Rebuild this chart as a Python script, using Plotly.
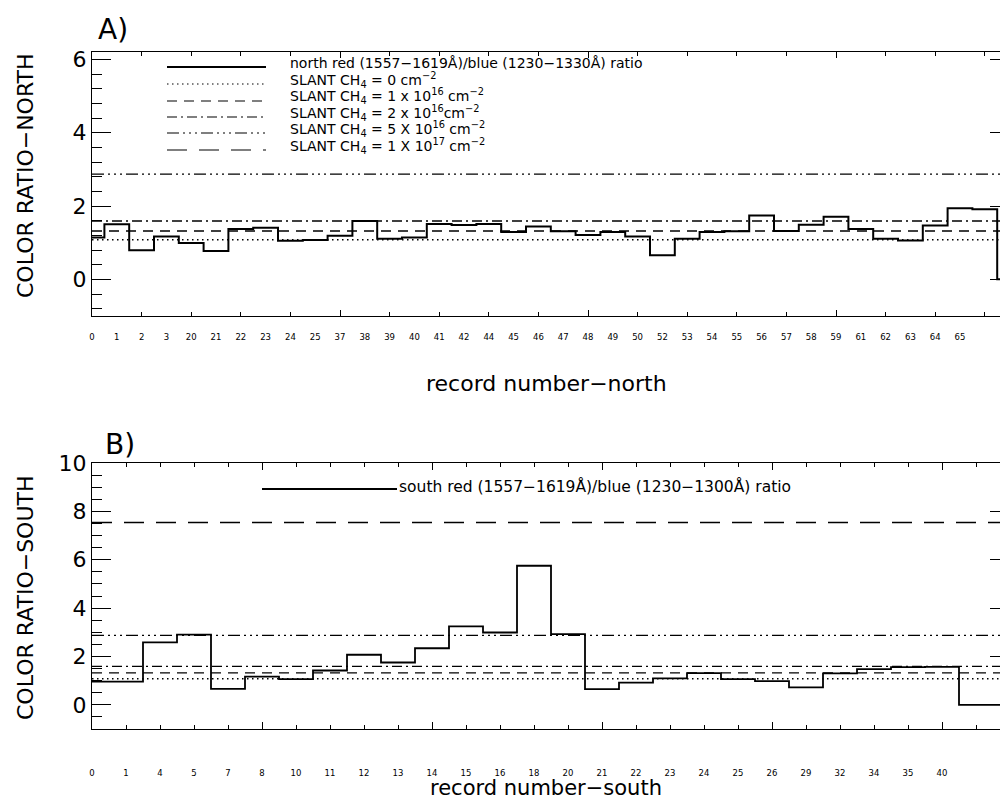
import plotly.graph_objects as go

# ---------------- data ----------------
north_labels = ["0", "1", "2", "3", "20", "21", "22", "23", "24", "25", "37", "38",
                "39", "40", "41", "42", "44", "45", "46", "47", "48", "49", "50", "52",
                "53", "54", "55", "56", "57", "58", "59", "61", "62", "63", "64", "65"]
north_ratio = [1.14, 1.50, 0.79, 1.17, 0.99, 0.77, 1.37, 1.41, 1.05, 1.07, 1.19, 1.59,
               1.11, 1.14, 1.51, 1.48, 1.51, 1.29, 1.44, 1.31, 1.21, 1.29, 1.17, 0.66,
               1.11, 1.29, 1.31, 1.74, 1.32, 1.49, 1.71, 1.37, 1.11, 1.06, 1.47, 1.94,
               1.91, 0.0]

south_labels = ["0", "1", "4", "5", "7", "8", "10", "11", "12", "13", "14", "15", "16",
                "18", "20", "21", "22", "23", "24", "25", "26", "29", "32", "34", "35", "40"]
south_ratio = [0.96, 0.96, 2.58, 2.90, 0.66, 1.17, 1.06, 1.42, 2.07, 1.75, 2.34, 3.24,
               2.99, 5.75, 2.92, 0.65, 0.92, 1.09, 1.31, 1.06, 0.98, 0.72, 1.30, 1.48,
               1.56, 1.57, 0.0, 0.0]

# model colour ratios for slant CH4 columns
ch4_text = [
    "SLANT CH<sub>4</sub> = 0 cm<sup>−2</sup>",
    "SLANT CH<sub>4</sub> = 1 x 10<sup>16</sup> cm<sup>−2</sup>",
    "SLANT CH<sub>4</sub> = 2 x 10<sup>16</sup>cm<sup>−2</sup>",
    "SLANT CH<sub>4</sub> = 5 X 10<sup>16</sup> cm<sup>−2</sup>",
    "SLANT CH<sub>4</sub> = 1 X 10<sup>17</sup> cm<sup>−2</sup>",
]
ch4_ratio = [1.08, 1.32, 1.59, 2.87, 7.54]

north_legend = "north red (1557−1619Å)/blue (1230−1330Å) ratio"
south_legend = "south red (1557−1619Å)/blue (1230−1300Å) ratio"

# ---------------- styling ----------------
FONT = "DejaVu Sans"
DASHES = ["1.5px,3.5px", "10px,7px", "10px,4px,2px,4px",
          "12px,4px,2px,4px,2px,4px,2px,4px", "20px,12px"]

W, H = 1000, 799
L, R, T, B = 92, 0, 52, 70
PW, PH = W - L - R, H - T - B


def px(x):
    return (x - L) / PW


def py(y):
    return (H - B - y) / PH


xr_n = [0, PW / 24.8]
xr_s = [0, PW / 34.0]
yr_n = [-1, 6.2]
yr_s = [-1, 10]

fig = go.Figure()

# step curves
fig.add_trace(go.Scatter(x=list(range(len(north_ratio))), y=north_ratio, mode="lines",
                         line=dict(shape="hvh", color="black", width=2),
                         xaxis="x", yaxis="y", showlegend=False))
fig.add_trace(go.Scatter(x=list(range(len(south_ratio))), y=south_ratio, mode="lines",
                         line=dict(shape="hvh", color="black", width=1.8),
                         xaxis="x2", yaxis="y2", showlegend=False))

# reference CH4 lines
for v, d in zip(ch4_ratio, DASHES):
    fig.add_trace(go.Scatter(x=[xr_n[0], xr_n[1]], y=[v, v], mode="lines",
                             line=dict(color="black", width=1.4, dash=d),
                             xaxis="x", yaxis="y", showlegend=False))
    fig.add_trace(go.Scatter(x=[xr_s[0], xr_s[1]], y=[v, v], mode="lines",
                             line=dict(color="black", width=1.4, dash=d),
                             xaxis="x2", yaxis="y2", showlegend=False))

# invisible helpers so the overlay axes are drawn
for xa, ya in [("x3", "y"), ("x", "y3"), ("x4", "y2"), ("x2", "y4")]:
    fig.add_trace(go.Scatter(x=[None], y=[None], xaxis=xa, yaxis=ya,
                             showlegend=False, hoverinfo="skip"))

domA = [py(316), 1.0]
domB = [0.0, py(463)]

label_axis = dict(showline=False, showgrid=False, zeroline=False, ticks="",
                  tickmode="array", tickfont=dict(family=FONT, size=8.5, color="black"))
mark_axis = dict(showline=True, mirror="ticks", linecolor="black", linewidth=1,
                 showgrid=False, zeroline=False, showticklabels=False,
                 ticks="inside", tickcolor="black", tickwidth=1, tickmode="linear", tick0=0)
y_axis = dict(showline=True, linecolor="black", linewidth=1, showgrid=False, zeroline=False,
              ticks="inside", ticklen=19, tickcolor="black", tickwidth=1,
              tickmode="linear", tick0=0, dtick=2,
              tickfont=dict(family=FONT, size=22, color="black"))
y_right = dict(showline=False, showgrid=False, zeroline=False, showticklabels=False,
               ticks="inside", ticklen=10, tickcolor="black", tickmode="linear",
               tick0=0, dtick=2, side="right")

fig.update_layout(
    width=W, height=H,
    margin=dict(l=L, r=R, t=T, b=B, pad=0),
    paper_bgcolor="white", plot_bgcolor="white",
    font=dict(family=FONT, color="black"),
    showlegend=False,
    xaxis=dict(**label_axis, domain=[0, 1], anchor="y", range=xr_n,
               tickvals=list(range(len(north_labels))), ticktext=north_labels,
               ticklabelstandoff=14),
    xaxis3=dict(**mark_axis, overlaying="x", anchor="y", range=xr_n, dtick=10, ticklen=6,
                minor=dict(dtick=2, tick0=0, ticks="inside", ticklen=4, tickcolor="black")),
    yaxis=dict(**y_axis, domain=domA, anchor="x", range=yr_n,
               minor=dict(dtick=0.4, tick0=0, ticks="inside", ticklen=10, tickcolor="black")),
    yaxis3=dict(**y_right, overlaying="y", anchor="x", range=yr_n),
    xaxis2=dict(**label_axis, domain=[0, 1], anchor="y2", range=xr_s,
                tickvals=list(range(len(south_labels))), ticktext=south_labels,
                ticklabelstandoff=37),
    xaxis4=dict(**mark_axis, overlaying="x2", anchor="y2", range=xr_s, dtick=5, ticklen=7,
                minor=dict(dtick=1, tick0=0, ticks="inside", ticklen=4, tickcolor="black")),
    yaxis2=dict(**y_axis, domain=domB, anchor="x2", range=yr_s,
                minor=dict(dtick=0.5, tick0=0, ticks="inside", ticklen=10, tickcolor="black")),
    yaxis4=dict(**y_right, overlaying="y2", anchor="x2", range=yr_s),
)

shapes = []
ann = []

# legend for panel A
leg_rows_text = [63, 80, 96, 113, 129, 146]
leg_rows_line = [67, 84, 101, 117, 133, 150]
shapes.append(dict(type="line", xref="paper", yref="paper", x0=px(167), x1=px(266),
                   y0=py(leg_rows_line[0]), y1=py(leg_rows_line[0]),
                   line=dict(color="black", width=2)))
ann.append(dict(text=north_legend, x=px(288), y=py(leg_rows_text[0]), xref="paper",
                yref="paper", xanchor="left", yanchor="middle", showarrow=False,
                font=dict(family=FONT, size=14, color="black")))
for i, (t, d) in enumerate(zip(ch4_text, DASHES)):
    shapes.append(dict(type="line", xref="paper", yref="paper", x0=px(167), x1=px(266),
                       y0=py(leg_rows_line[i + 1]), y1=py(leg_rows_line[i + 1]),
                       line=dict(color="black", width=1.2, dash=d)))
    ann.append(dict(text=t, x=px(288), y=py(leg_rows_text[i + 1]), xref="paper",
                    yref="paper", xanchor="left", yanchor="middle", showarrow=False,
                    font=dict(family=FONT, size=14, color="black")))

# legend for panel B
shapes.append(dict(type="line", xref="paper", yref="paper", x0=px(262), x1=px(397),
                   y0=py(489), y1=py(489), line=dict(color="black", width=2)))
ann.append(dict(text=south_legend, x=px(397), y=py(486), xref="paper", yref="paper",
                xanchor="left", yanchor="middle", showarrow=False,
                font=dict(family=FONT, size=15.5, color="black")))

# panel letters
ann.append(dict(text="A)", x=px(96), y=py(29), xref="paper", yref="paper",
                xanchor="left", yanchor="middle", showarrow=False,
                font=dict(family=FONT, size=28, color="black")))
ann.append(dict(text="B)", x=px(103), y=py(444), xref="paper", yref="paper",
                xanchor="left", yanchor="middle", showarrow=False,
                font=dict(family=FONT, size=28, color="black")))

# axis titles
ann.append(dict(text="COLOR RATIO−NORTH", x=px(25), y=py(176), xref="paper", yref="paper",
                xanchor="center", yanchor="middle", textangle=-90, showarrow=False,
                font=dict(family=FONT, size=22, color="black")))
ann.append(dict(text="COLOR RATIO−SOUTH", x=px(25), y=py(598), xref="paper", yref="paper",
                xanchor="center", yanchor="middle", textangle=-90, showarrow=False,
                font=dict(family=FONT, size=22, color="black")))
ann.append(dict(text="record number−north", x=px(546), y=py(383), xref="paper",
                yref="paper", xanchor="center", yanchor="middle", showarrow=False,
                font=dict(family=FONT, size=22, color="black")))
ann.append(dict(text="record number−south", x=px(546), y=py(788), xref="paper",
                yref="paper", xanchor="center", yanchor="middle", showarrow=False,
                font=dict(family=FONT, size=21, color="black")))

fig.update_layout(shapes=shapes, annotations=ann)
fig.write_html("out.html")
